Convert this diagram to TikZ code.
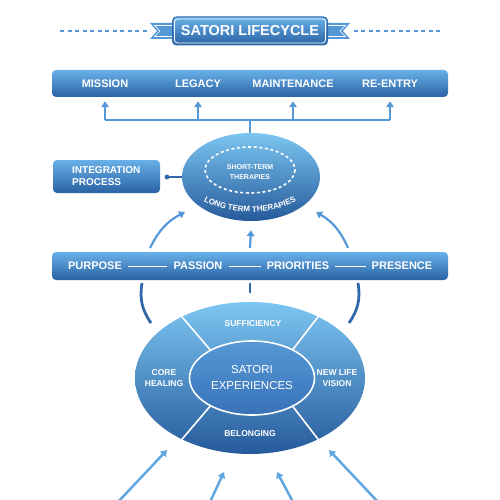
\documentclass[tikz,border=0pt]{standalone}
\usepackage{fontspec}
\setmainfont{Liberation Sans}
\usetikzlibrary{shapes.geometric,arrows.meta,decorations.text,calc}
\definecolor{bl}{RGB}{104,176,232}
\definecolor{bd}{RGB}{42,98,164}
\definecolor{arrc}{RGB}{84,152,216}
\definecolor{darc}{RGB}{48,104,170}
\definecolor{ell1}{RGB}{124,198,242}
\definecolor{ell2}{RGB}{38,90,155}
\definecolor{inn1}{RGB}{86,152,214}
\definecolor{inn2}{RGB}{56,114,184}
\definecolor{barr}{RGB}{96,166,224}
\begin{document}
\begin{tikzpicture}[x=1pt,y=-1pt,
 bar/.style={rectangle, rounded corners=4pt, top color=bl, bottom color=bd, minimum width=396pt, minimum height=27pt, inner sep=0pt},
 lbl/.style={text=white, font=\bfseries\fontsize{11}{13}\selectfont, inner sep=0pt},
 slbl/.style={text=white, font=\bfseries\fontsize{8.5}{11}\selectfont, align=center, inner sep=0pt},
 conn/.style={draw=arrc, line width=2.2pt},
 arr/.style={conn, -{Triangle[width=7.5pt,length=6pt]}},
 seg/.style={draw=white, line width=1.6pt},
]
\useasboundingbox (0,0) rectangle (500,500);

% ---------- title ----------
\coordinate (dl0) at (60,31); \coordinate (dl1) at (150,31);
\coordinate (dr0) at (350,31); \coordinate (dr1) at (440,31);
\draw[arrc, line width=1.4pt, dash pattern=on 4pt off 3.5pt] (dl0) -- (dl1);
\draw[arrc, line width=1.4pt, dash pattern=on 4pt off 3.5pt] (dr1) -- (dr0);
\fill[arrc] (150,23) -- (174,23) -- (174,39) -- (150,39) -- (157,31) -- cycle;
\draw[white, line width=0.6pt] (174,25.5) -- (154.5,25.5) -- (160,31) -- (154.5,36.5) -- (174,36.5);
\fill[arrc] (350,23) -- (326,23) -- (326,39) -- (350,39) -- (343,31) -- cycle;
\draw[white, line width=0.6pt] (326,25.5) -- (345.5,25.5) -- (340,31) -- (345.5,36.5) -- (326,36.5);
\node[rectangle, rounded corners=4pt, draw=darc, line width=1pt, top color=bl, bottom color=bd,
      minimum width=155pt, minimum height=28pt, text=white,
      font=\bfseries\fontsize{14.5}{16}\selectfont] (title) at (250,31) {SATORI LIFECYCLE};
\draw[white, line width=0.8pt, rounded corners=3pt] ([shift={(2.5pt,-2.5pt)}]title.north west) rectangle ([shift={(-2.5pt,2.5pt)}]title.south east);

% ---------- top bar ----------
\node[bar] (topbar) at (250,83.5) {};
\node[lbl] (mission) at (105,83.5) {MISSION};
\node[lbl] (legacy) at (198,83.5) {LEGACY};
\node[lbl] (maint) at (293,83.5) {MAINTENANCE};
\node[lbl] (reentry) at (390,83.5) {RE-ENTRY};

% ---------- therapies ellipse ----------
\node[ellipse, top color=ell1, bottom color=ell2, minimum width=138pt, minimum height=88pt, inner sep=0pt] (therapy) at (251,177) {};
\draw[white, line width=1.6pt, dash pattern=on 3pt off 2.6pt] (250,170) ellipse (45 and 23);
\node[slbl, font=\bfseries\fontsize{7}{10}\selectfont] (short) at (250,172) {SHORT-TERM\\THERAPIES};
\path[decorate, decoration={text along path, text align=center, text color=white,
      text={|\bfseries\fontsize{8}{9}\selectfont|LONG TERM THERAPIES}}]
      (197,197) .. controls (224,217) and (276,217) .. (303,197);

% branch to top bar
\coordinate (hub) at (250,120);
\draw[conn] (therapy.north -| hub) -- (hub);
\draw[conn] (mission |- hub) -- (reentry |- hub);
\foreach \n in {mission,legacy,maint,reentry}
  \draw[arr] (\n |- hub) -- ([yshift=-4pt]\n |- topbar.south);

% ---------- integration process ----------
\node[rectangle, rounded corners=4pt, top color=bl, bottom color=bd, minimum width=107pt, minimum height=33pt, inner sep=0pt] (integ) at (106.5,176.5) {};
\node[lbl, font=\bfseries\fontsize{10}{12}\selectfont, align=left, anchor=west] (integtxt) at (72,176.5) {INTEGRATION\\PROCESS};
\coordinate (dot) at (167,177);
\draw[darc, line width=1.5pt] (dot) -- (therapy.west |- dot);
\fill[darc] (dot) circle (2.4);

% ---------- purpose bar ----------
\node[bar, minimum height=28pt] (pbar) at (250,266) {};
\node[lbl] (purpose) at (95,266) {PURPOSE};
\node[lbl] (passion) at (198,266) {PASSION};
\node[lbl] (priorities) at (298,266) {PRIORITIES};
\node[lbl] (presence) at (402,266) {PRESENCE};
\draw[white, line width=1pt, shorten >=6pt, shorten <=6pt] (purpose) -- (passion);
\draw[white, line width=1pt, shorten >=6pt, shorten <=6pt] (passion) -- (priorities);
\draw[white, line width=1pt, shorten >=6pt, shorten <=6pt] (priorities) -- (presence);

% arrows bar -> therapies
\coordinate (la0) at (150,248); \coordinate (la1) at (185,212);
\coordinate (ra0) at (348,248); \coordinate (ra1) at (316,212);
\draw[arr] (la0) to[bend left=18] (la1);
\draw[arr] (ra0) to[bend right=18] (ra1);
\draw[arr] ([yshift=4pt]pbar.north) -- ([yshift=-9pt]therapy.south);

% arcs below bar
\coordinate (lc0) at (142,283); \coordinate (lc1) at (151,323);
\coordinate (rc0) at (358,283); \coordinate (rc1) at (349,323);
\draw[darc, line width=2.8pt] (lc0) to[bend right=22] (lc1);
\draw[darc, line width=2.8pt] (rc0) to[bend left=22] (rc1);
\draw[darc, line width=2.8pt] ([yshift=-3pt]pbar.south) -- ++(0,10);

% ---------- satori ellipse ----------
\node[ellipse, top color=ell1, bottom color=ell2, minimum width=230pt, minimum height=152pt, inner sep=0pt] (satori) at (250,378) {};
\node[ellipse, draw=white, line width=1.6pt, top color=inn1, bottom color=inn2, minimum width=125pt, minimum height=74pt, inner sep=0pt] (core) at (252,378) {};
\draw[seg] (core.146) -- (satori.138);
\draw[seg] (core.35) -- (satori.42);
\draw[seg] (core.214) -- (satori.222);
\draw[seg] (core.325) -- (satori.318);
\node[text=white, font=\fontsize{11.5}{16}\selectfont, align=center, inner sep=0pt] (satoritxt) at (252,378) {SATORI\\EXPERIENCES};
\node[slbl] (suff) at (253,324) {SUFFICIENCY};
\node[slbl] (heal) at (164,378) {CORE\\HEALING};
\node[slbl] (vision) at (337,378) {NEW LIFE\\VISION};
\node[slbl] (belong) at (250,434) {BELONGING};

% bottom arrows
\coordinate (b1s) at (118,502); \coordinate (b1e) at (167,450);
\coordinate (b2s) at (210,502); \coordinate (b2e) at (224,472);
\coordinate (b3s) at (293,502); \coordinate (b3e) at (277,472);
\coordinate (b4s) at (378,502); \coordinate (b4e) at (329,450);
\foreach \i in {1,2,3,4}
  \draw[arr, draw=barr, fill=barr, line width=2.5pt] (b\i s) -- (b\i e);
\end{tikzpicture}
\end{document}
